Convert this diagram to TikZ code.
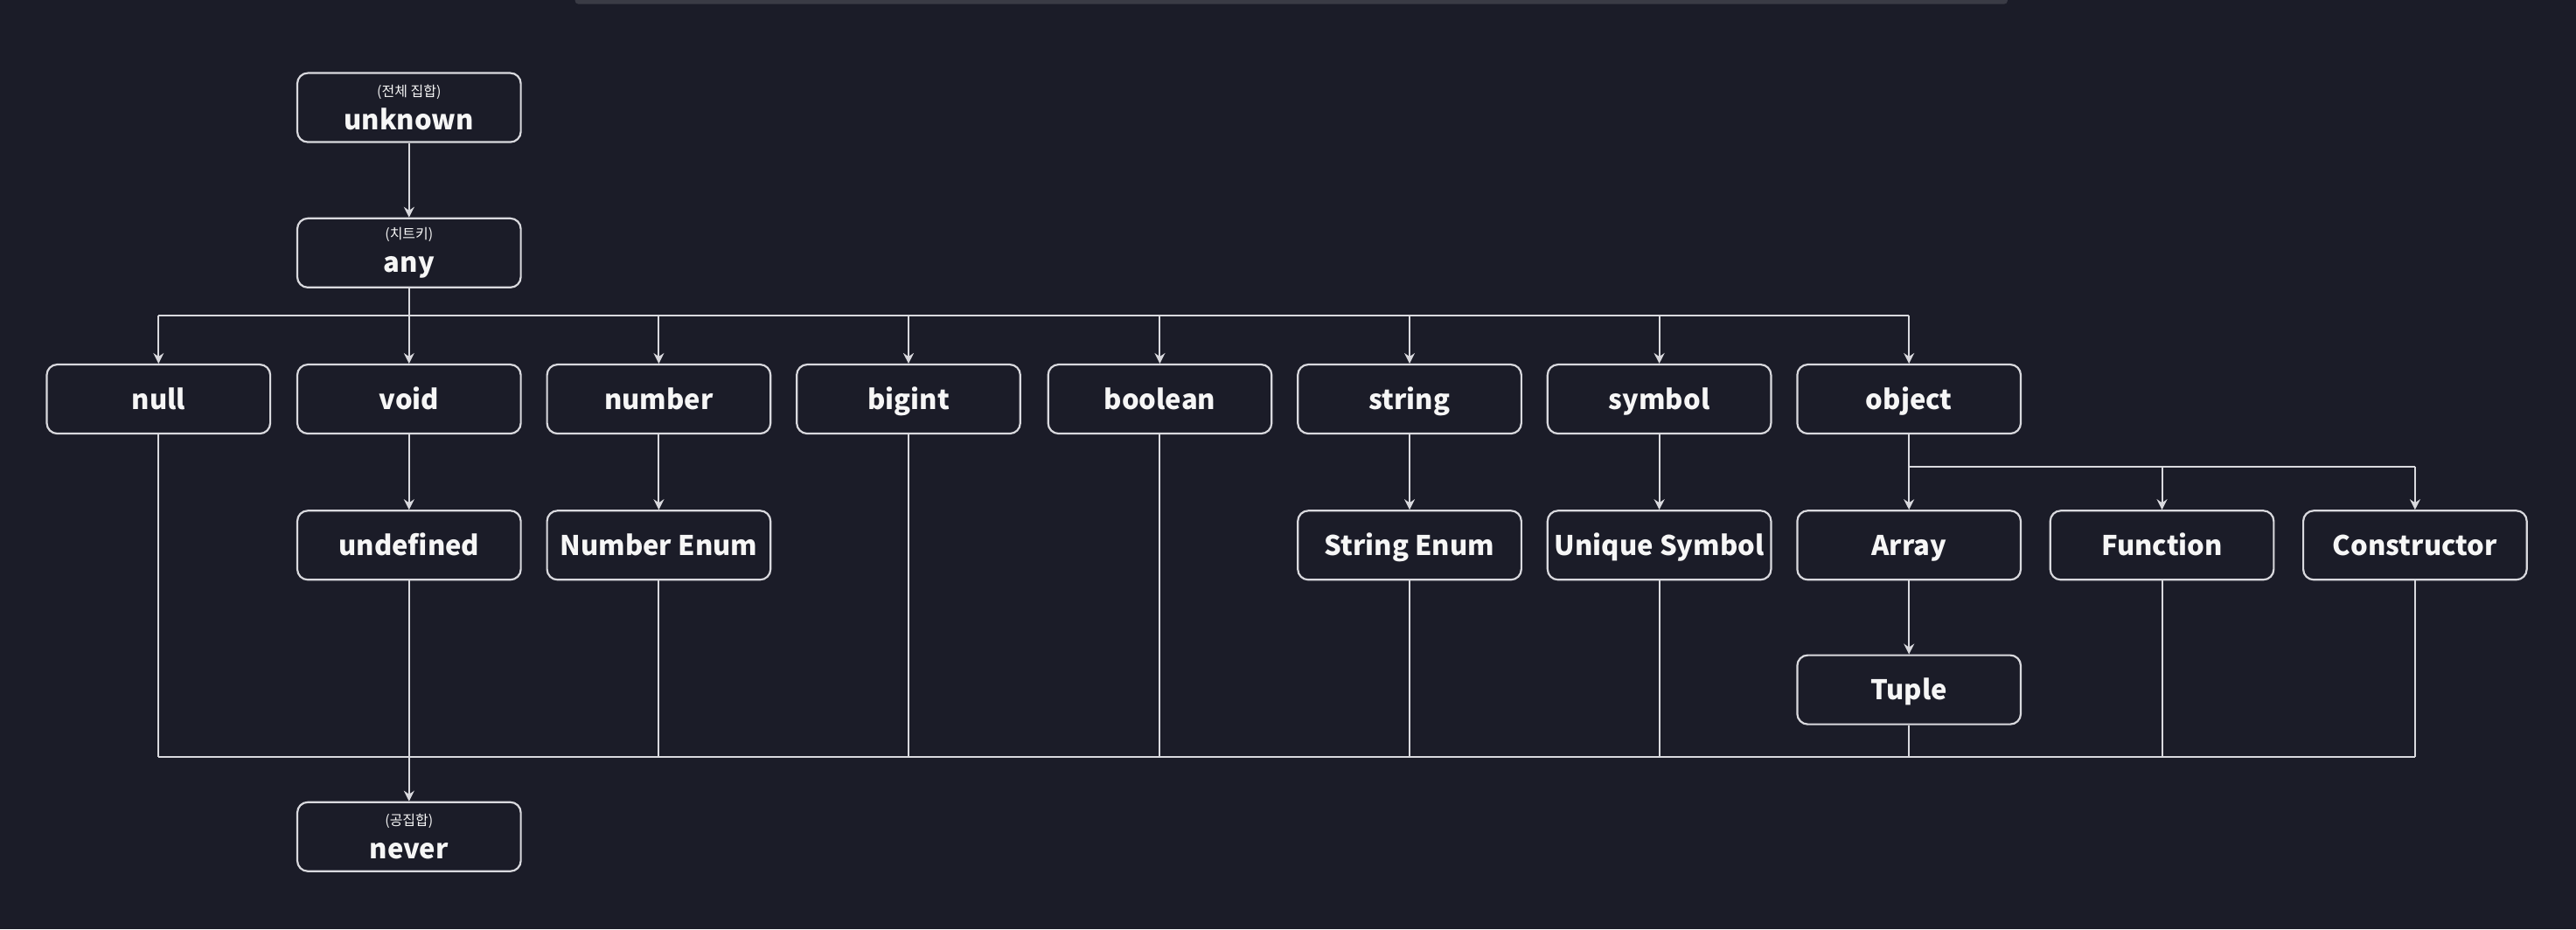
\documentclass[tikz,border=0pt]{standalone}
\usepackage{fontspec}
\setmainfont{Noto Sans CJK KR}
\usetikzlibrary{arrows.meta}
\definecolor{bg-dark}{HTML}{1B1C28}
\definecolor{line-gray}{HTML}{D9D9DE}
\definecolor{strip-gray}{HTML}{3A3B45}
\tikzset{
    type-box/.style = {draw=line-gray, fill=bg-dark, text=white!93!gray, line width=1.1pt, rectangle, rounded corners=6pt,
        minimum width=127.8pt, minimum height=39.5pt, inner sep=0pt, align=center, font=\fontsize{15.5}{19}\selectfont\bfseries},
    single-box/.style = {type-box, text height=12.5pt, text depth=1pt},
    link/.style = {draw=line-gray, line width=1pt},
    arrow-link/.style = {link, -{Stealth[length=6pt, width=6pt, inset=2pt]}},
}
\newcommand{\typenote}[1]{{\fontsize{8}{10}\selectfont\mdseries #1}}

\begin{document}
\begin{tikzpicture}[x=0.9394pt, y=-0.9394pt]
\fill[bg-dark] (0,0) rectangle (1568,566);
\useasboundingbox (0,0) rectangle (1568,566);
\fill[strip-gray, rounded corners=2pt] (350,-4) rectangle (1222,2.5);

% top of the tree
\node[type-box] (unknown) at (249,65.5) {\typenote{(전체 집합)}\\unknown};
\node[type-box] (any) at (249,154) {\typenote{(치트키)}\\any};

% primitive types
\node[single-box] (null) at (96.5,243) {null};
\node[single-box] (void) at (249,243) {void};
\node[single-box] (number) at (401,243) {number};
\node[single-box] (bigint) at (553,243) {bigint};
\node[single-box] (boolean) at (706,243) {boolean};
\node[single-box] (string) at (858,243) {string};
\node[single-box] (symbol) at (1010,243) {symbol};
\node[single-box] (object) at (1162,243) {object};

% subtypes
\node[single-box] (undefined) at (249,332) {undefined};
\node[single-box] (number-enum) at (401,332) {Number Enum};
\node[single-box] (string-enum) at (858,332) {String Enum};
\node[single-box] (unique-symbol) at (1010,332) {Unique Symbol};
\node[single-box] (array) at (1162,332) {Array};
\node[single-box] (function) at (1316,332) {Function};
\node[single-box] (constructor) at (1470,332) {Constructor};
\node[single-box] (tuple) at (1162,420) {Tuple};

% bottom
\node[type-box] (never) at (249,509.5) {\typenote{(공집합)}\\never};

\coordinate (any-bus) at (0,192);
\coordinate (object-bus) at (0,284);
\coordinate (never-bus) at (0,461);

\draw[arrow-link] (unknown) -- (any);
\draw[link] (any.south) -- (any.south |- any-bus);
\draw[link] (null.north |- any-bus) -- (object.north |- any-bus);
\foreach \t in {null,void,number,bigint,boolean,string,symbol,object}
    \draw[arrow-link] (\t.north |- any-bus) -- (\t.north);

\draw[arrow-link] (void) -- (undefined);
\draw[arrow-link] (number) -- (number-enum);
\draw[arrow-link] (string) -- (string-enum);
\draw[arrow-link] (symbol) -- (unique-symbol);
\draw[arrow-link] (array) -- (tuple);

\draw[link] (object.south) -- (object.south |- object-bus) -- (constructor.north |- object-bus);
\foreach \t in {array,function,constructor}
    \draw[arrow-link] (\t.north |- object-bus) -- (\t.north);

\draw[link] (null.south |- never-bus) -- (constructor.south |- never-bus);
\foreach \t in {null,number-enum,bigint,boolean,string-enum,unique-symbol,tuple,function,constructor}
    \draw[link] (\t.south) -- (\t.south |- never-bus);
\draw[arrow-link] (undefined) -- (never);
\end{tikzpicture}
\end{document}
